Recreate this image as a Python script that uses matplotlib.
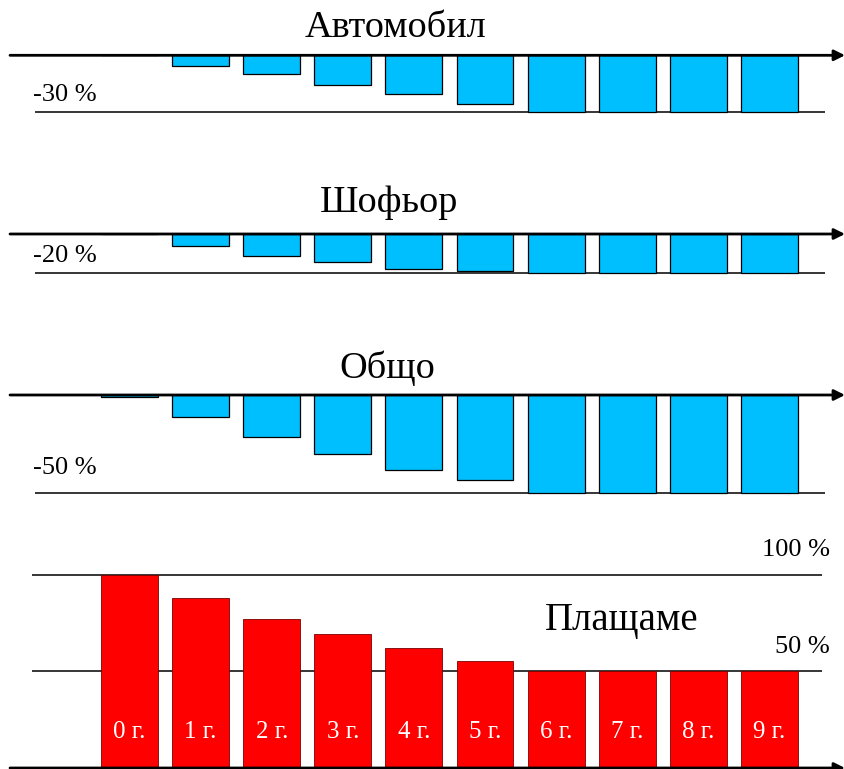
import matplotlib as mpl
import matplotlib.pyplot as plt

# ---- data ----------------------------------------------------------------
years = ["0 г.", "1 г.", "2 г.", "3 г.", "4 г.", "5 г.", "6 г.", "7 г.", "8 г.", "9 г."]
car = [0, -5.5, -9.8, -15.5, -20.4, -25.6, -30, -30, -30, -30]
driver = [0, -5.9, -11.2, -14.4, -17.8, -18.8, -20, -20, -20, -20]
total = [-1, -11.4, -21.7, -30.2, -38.6, -43.3, -50, -50, -50, -50]
pay = [100, 88.1, 77.2, 69.3, 61.9, 55.5, 50, 50, 50, 50]

W, H = 845, 769
BLUE = "#00BFFF"
RED = "#FF0000"

mpl.rcParams.update({
    "font.family": ["Liberation Serif", "DejaVu Serif"],
})

# horizontal mapping (pixels): bar i centred at X0 + DX * i
X0, DX = 129.5, 71.1
XLIM = (-X0 / DX, (W - X0) / DX)


def px_x(px):
    return (px - X0) / DX


def make_axes(fig, top_px, bottom_px, zero_px, px_per_unit):
    ax = fig.add_axes([0, 1 - bottom_px / H, 1, (bottom_px - top_px) / H])
    ax.set_xlim(*XLIM)
    ax.set_ylim(-(bottom_px - zero_px) / px_per_unit, (zero_px - top_px) / px_per_unit)
    ax.axis("off")
    return ax


def axis_arrow(ax):
    ax.annotate("", xy=(XLIM[1], 0), xytext=(px_x(10), 0),
                arrowprops=dict(arrowstyle="-|>", color="black", lw=2.0,
                                mutation_scale=16, shrinkA=0, shrinkB=0),
                zorder=5)


def fig_text(x_px, y_px, s, **kw):
    fig.text(x_px / W, 1 - y_px / H, s, **kw)


fig = plt.figure(figsize=(W / 100, H / 100), dpi=100)

x = list(range(len(years)))

panels = [
    (car, 40, 125, 55.3, 57 / 30, -30, "Автомобил", 396, 37, "-30 %", 95),
    (driver, 220, 285, 234, 39.3 / 20, -20, "Шофьор", 389, 212, "-20 %", 256),
    (total, 380, 505, 395, 97.7 / 50, -50, "Общо", 387, 378, "-50 %", 468),
]
for values, top, bottom, zero, scale, ref, title, tx, ty, lab, ly in panels:
    ax = make_axes(fig, top, bottom, zero, scale)
    ax.bar(x, values, width=0.8, color=BLUE, edgecolor="black", linewidth=0.9, zorder=3)
    ax.hlines(ref, px_x(35), px_x(825), color="black", lw=1.1, zorder=2)
    axis_arrow(ax)
    fig_text(tx, ty, title, fontsize=27.5, ha="center", va="baseline")
    fig_text(33, ly, lab, fontsize=19, ha="left", va="center")

# bottom panel
ax = make_axes(fig, 530, H, 768, 193.3 / 100)
ax.hlines([100, 50], px_x(32), px_x(822), color="black", lw=1.1, zorder=1)
ax.bar(x, pay, width=0.8, color=RED, edgecolor="#7a0000", linewidth=0.6, zorder=3)
for xi, name in zip(x, years):
    ax.text(xi, 15.5, name, color="white", fontsize=18, ha="center", va="baseline", zorder=4)
axis_arrow(ax)
fig_text(622, 630, "Плащаме", fontsize=28, ha="center", va="baseline")
fig_text(830, 550, "100 %", fontsize=19, ha="right", va="center")
fig_text(830, 647, "50 %", fontsize=19, ha="right", va="center")

fig.savefig("out.png", dpi=100)
